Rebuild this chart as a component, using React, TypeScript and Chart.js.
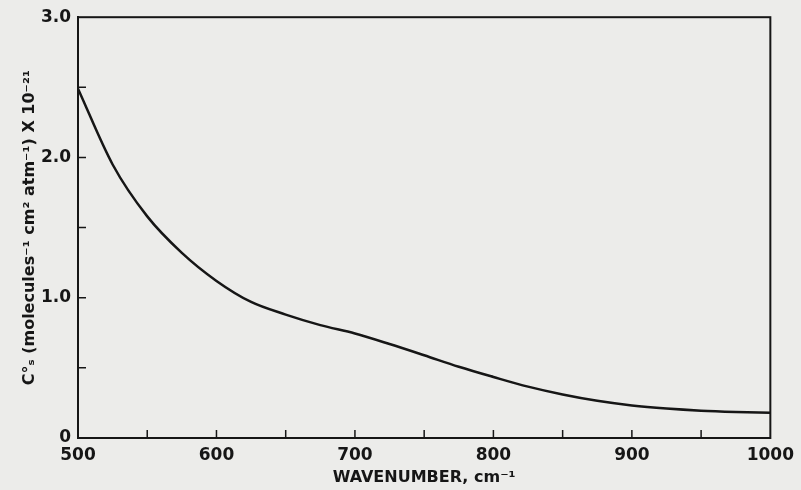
import React, { useEffect, useRef } from "react";
import { Chart, registerables } from "chart.js";

Chart.register(...registerables);

// Wavenumber (cm^-1)
const wavenumbers = [500, 525, 550, 575, 600, 625, 650, 675, 700, 725, 750, 775, 800, 825, 850, 875, 900, 925, 950, 975, 1000];
// C°s (molecules^-1 cm^2 atm^-1) x 10^-21
const coefficient = [2.49, 1.95, 1.58, 1.32, 1.12, 0.97, 0.88, 0.805, 0.745, 0.67, 0.59, 0.508, 0.435, 0.366, 0.31, 0.265, 0.232, 0.21, 0.195, 0.186, 0.18];

const xMajorTicks = [500, 600, 700, 800, 900, 1000];
const xMinorTicks = [550, 650, 750, 850, 950];
const yMajorTicks = [0, 1, 2, 3];
const yMinorTicks = [0.5, 1.5, 2.5];

const xTitle = "WAVENUMBER, cm⁻¹";
const yTitle = "C°ₛ (molecules⁻¹ cm² atm⁻¹) X 10⁻²¹";

const INK = "#161616";
const PAPER = "#ececea";
const FONT = "'DejaVu Sans', sans-serif";

const frameAndTicks = {
  id: "frameAndTicks",
  afterDraw(chart: any) {
    const { ctx, chartArea } = chart;
    const xs = chart.scales.x;
    const ys = chart.scales.y;
    const len = 8;
    ctx.save();
    ctx.strokeStyle = INK;
    ctx.lineWidth = 2;
    ctx.strokeRect(chartArea.left, chartArea.top, chartArea.right - chartArea.left, chartArea.bottom - chartArea.top);
    ctx.lineWidth = 1.5;
    ctx.beginPath();
    [...xMajorTicks, ...xMinorTicks].forEach((v) => {
      const px = xs.getPixelForValue(v);
      if (px <= chartArea.left + 1 || px >= chartArea.right - 1) return;
      ctx.moveTo(px, chartArea.bottom);
      ctx.lineTo(px, chartArea.bottom - len);
    });
    [...yMajorTicks, ...yMinorTicks].forEach((v) => {
      const py = ys.getPixelForValue(v);
      if (py <= chartArea.top + 1 || py >= chartArea.bottom - 1) return;
      ctx.moveTo(chartArea.left, py);
      ctx.lineTo(chartArea.left + len, py);
    });
    ctx.stroke();
    ctx.restore();
  },
};

export default function App() {
  const canvasRef = useRef<HTMLCanvasElement | null>(null);

  useEffect(() => {
    if (!canvasRef.current) return;
    const chart = new Chart(canvasRef.current, {
      type: "line",
      data: {
        datasets: [
          {
            data: wavenumbers.map((w, i) => ({ x: w, y: coefficient[i] })),
            borderColor: INK,
            borderWidth: 2.5,
            pointRadius: 0,
            cubicInterpolationMode: "monotone",
            fill: false,
          },
        ],
      },
      options: {
        animation: false,
        responsive: false,
        maintainAspectRatio: false,
        layout: { padding: { top: 17, right: 26, left: 0, bottom: 0 } },
        plugins: { legend: { display: false }, tooltip: { enabled: false } },
        scales: {
          x: {
            type: "linear",
            min: 500,
            max: 1000,
            afterBuildTicks: (scale: any) => {
              scale.ticks = xMajorTicks.map((v) => ({ value: v }));
            },
            afterFit: (scale: any) => {
              scale.height = 52;
            },
            grid: { display: false, drawTicks: false },
            border: { display: true, color: INK, width: 2 },
            ticks: {
              color: INK,
              padding: 7,
              maxRotation: 0,
              font: { family: FONT, size: 17, weight: "bold" },
              callback: (v: any) => String(v),
            },
            title: {
              display: true,
              text: xTitle,
              color: INK,
              font: { family: FONT, size: 16, weight: "bold" },
              padding: { top: 0, bottom: 3 },
            },
          },
          y: {
            type: "linear",
            min: 0,
            max: 3,
            afterBuildTicks: (scale: any) => {
              scale.ticks = yMajorTicks.map((v) => ({ value: v }));
            },
            afterFit: (scale: any) => {
              scale.width = 78;
            },
            grid: { display: false, drawTicks: false },
            border: { display: true, color: INK, width: 2 },
            ticks: {
              color: INK,
              padding: 7,
              font: { family: FONT, size: 17, weight: "bold" },
              callback: (v: any) => (v === 0 ? "0" : Number(v).toFixed(1)),
            },
            title: {
              display: true,
              text: yTitle,
              color: INK,
              font: { family: FONT, size: 16, weight: "bold" },
              padding: { top: 20, bottom: 0 },
            },
          },
        },
      },
      plugins: [frameAndTicks],
    } as any);
    return () => chart.destroy();
  }, []);

  return (
    <div style={{ position: "fixed", left: 0, top: 0, width: 801, height: 490, background: PAPER }}>
      <canvas ref={canvasRef} width={801} height={490} style={{ display: "block", width: 801, height: 490 }} />
    </div>
  );
}
